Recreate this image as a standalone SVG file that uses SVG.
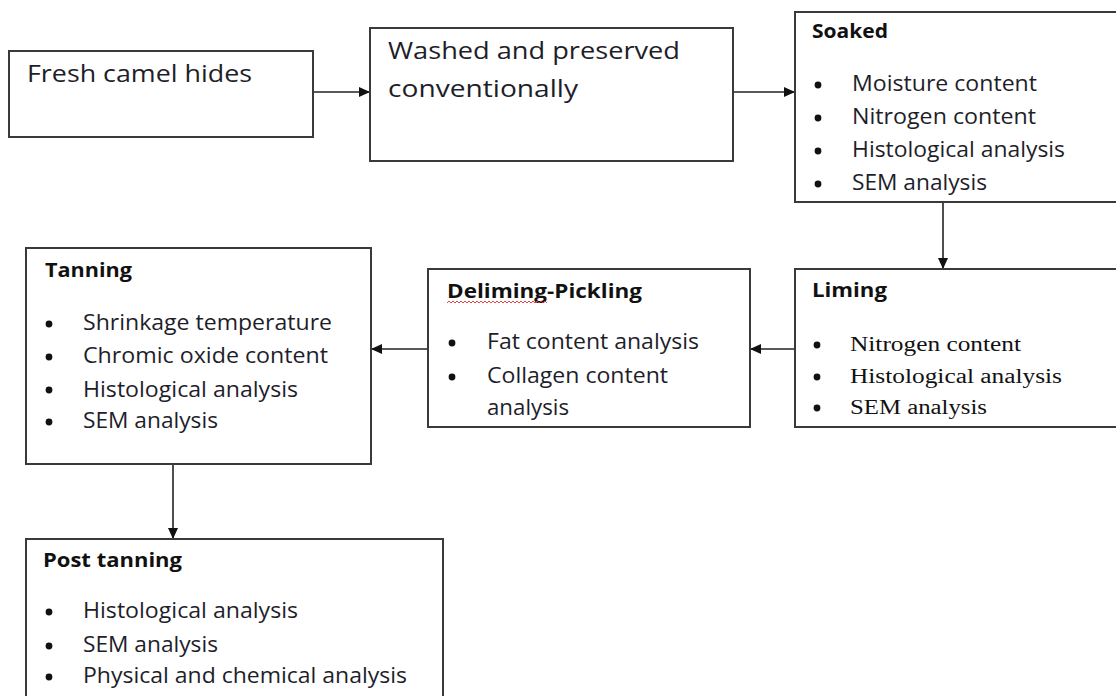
<svg xmlns="http://www.w3.org/2000/svg" width="1116" height="696" viewBox="0 0 1116 696">
<style>
.box{fill:#fff;stroke:#3a3a3a;stroke-width:2}
.big{font-family:"Open Sans","Noto Sans",sans-serif;font-size:24px;fill:#1e1e2a}
.hd{font-family:"Open Sans","Noto Sans",sans-serif;font-size:19.5px;font-weight:bold;fill:#111}
.it{font-family:"Open Sans","Noto Sans",sans-serif;font-size:21px;fill:#1e1e2a}
.se{font-family:"Liberation Serif","Times New Roman",serif;font-size:20px;fill:#111}
.bul{fill:#111}
.con{stroke:#222;stroke-width:1.6;fill:none;marker-end:url(#ah)}
</style>
<defs>
<marker id="ah" markerUnits="userSpaceOnUse" markerWidth="11" markerHeight="10" refX="11" refY="5" orient="auto">
<path d="M0,0 L11,5 L0,10 z" fill="#111"/>
</marker>
</defs>
<rect width="1116" height="696" fill="#fff"/>
<g id="connectors">
<path class="con" d="M313,92 H370"/>
<path class="con" d="M733,92 H795"/>
<path class="con" d="M943,202 V269"/>
<path class="con" d="M795,349 H750"/>
<path class="con" d="M428,349 H371"/>
<path class="con" d="M173,464 V539"/>
</g>
<g id="fresh">
<rect class="box" x="9" y="51" width="304" height="86"/>
<text class="big" x="27" y="82" textLength="225" lengthAdjust="spacingAndGlyphs">Fresh camel hides</text>
</g>
<g id="washed">
<rect class="box" x="370" y="28" width="363" height="133"/>
<text class="big" x="388" y="59" textLength="292" lengthAdjust="spacingAndGlyphs">Washed and preserved</text>
<text class="big" x="388" y="97" textLength="190" lengthAdjust="spacingAndGlyphs">conventionally</text>
</g>
<g id="soaked">
<rect class="box" x="795" y="12" width="330" height="190"/>
<text class="hd" x="812" y="38" textLength="76" lengthAdjust="spacingAndGlyphs">Soaked</text>
<circle class="bul" cx="818" cy="85" r="3.4"/>
<circle class="bul" cx="818" cy="118" r="3.4"/>
<circle class="bul" cx="818" cy="151" r="3.4"/>
<circle class="bul" cx="818" cy="184" r="3.4"/>
<text class="it" x="852" y="91" textLength="185" lengthAdjust="spacingAndGlyphs">Moisture content</text>
<text class="it" x="852" y="124" textLength="184" lengthAdjust="spacingAndGlyphs">Nitrogen content</text>
<text class="it" x="852" y="157" textLength="213" lengthAdjust="spacingAndGlyphs">Histological analysis</text>
<text class="it" x="852" y="190" textLength="135" lengthAdjust="spacingAndGlyphs">SEM analysis</text>
</g>
<g id="liming">
<rect class="box" x="795" y="269" width="330" height="158"/>
<text class="hd" x="812" y="297" textLength="75" lengthAdjust="spacingAndGlyphs">Liming</text>
<circle class="bul" cx="817" cy="345" r="3.4"/>
<circle class="bul" cx="817" cy="377" r="3.4"/>
<circle class="bul" cx="817" cy="408" r="3.4"/>
<text class="se" x="850" y="351" textLength="171" lengthAdjust="spacingAndGlyphs">Nitrogen content</text>
<text class="se" x="850" y="383" textLength="212" lengthAdjust="spacingAndGlyphs">Histological  analysis</text>
<text class="se" x="850" y="414" textLength="137" lengthAdjust="spacingAndGlyphs">SEM analysis</text>
</g>
<g id="deliming">
<rect class="box" x="428" y="269" width="322" height="158"/>
<text class="hd" x="447" y="298" textLength="195" lengthAdjust="spacingAndGlyphs">Deliming-Pickling</text>
<path d="M447,303 l2,-2 l2,2 l2,-2 l2,2 l2,-2 l2,2 l2,-2 l2,2 l2,-2 l2,2 l2,-2 l2,2 l2,-2 l2,2 l2,-2 l2,2 l2,-2 l2,2 l2,-2 l2,2 l2,-2 l2,2 l2,-2 l2,2 l2,-2 l2,2 l2,-2 l2,2 l2,-2 l2,2 l2,-2 l2,2 l2,-2 l2,2 l2,-2 l2,2 l2,-2 l2,2 l2,-2 l2,2 l2,-2 l2,2 l2,-2 l2,2 l2,-2 l2,2 l2,-2 l2,2 l2,-2 l2,2" fill="none" stroke="#e03030" stroke-width="0.9"/>
<circle class="bul" cx="452" cy="343" r="3.4"/>
<circle class="bul" cx="452" cy="377" r="3.4"/>
<text class="it" x="487" y="349" textLength="212" lengthAdjust="spacingAndGlyphs">Fat content  analysis</text>
<text class="it" x="487" y="383" textLength="181" lengthAdjust="spacingAndGlyphs">Collagen content</text>
<text class="it" x="487" y="415" textLength="82" lengthAdjust="spacingAndGlyphs">analysis</text>
</g>
<g id="tanning">
<rect class="box" x="26" y="248" width="345" height="216"/>
<text class="hd" x="45" y="277" textLength="87" lengthAdjust="spacingAndGlyphs">Tanning</text>
<circle class="bul" cx="49" cy="324" r="3.4"/>
<circle class="bul" cx="49" cy="357" r="3.4"/>
<circle class="bul" cx="49" cy="390" r="3.4"/>
<circle class="bul" cx="49" cy="422" r="3.4"/>
<text class="it" x="83" y="330" textLength="249" lengthAdjust="spacingAndGlyphs">Shrinkage temperature</text>
<text class="it" x="83" y="363" textLength="245" lengthAdjust="spacingAndGlyphs">Chromic oxide content</text>
<text class="it" x="83" y="397" textLength="215" lengthAdjust="spacingAndGlyphs">Histological analysis</text>
<text class="it" x="83" y="428" textLength="135" lengthAdjust="spacingAndGlyphs">SEM analysis</text>
</g>
<g id="post">
<rect class="box" x="26" y="539" width="417" height="170"/>
<text class="hd" x="43" y="567" textLength="139" lengthAdjust="spacingAndGlyphs">Post tanning</text>
<circle class="bul" cx="49" cy="612" r="3.4"/>
<circle class="bul" cx="49" cy="646" r="3.4"/>
<circle class="bul" cx="49" cy="677" r="3.4"/>
<text class="it" x="83" y="618" textLength="215" lengthAdjust="spacingAndGlyphs">Histological analysis</text>
<text class="it" x="83" y="652" textLength="135" lengthAdjust="spacingAndGlyphs">SEM analysis</text>
<text class="it" x="83" y="683" textLength="324" lengthAdjust="spacingAndGlyphs">Physical and chemical  analysis</text>
</g>
</svg>
